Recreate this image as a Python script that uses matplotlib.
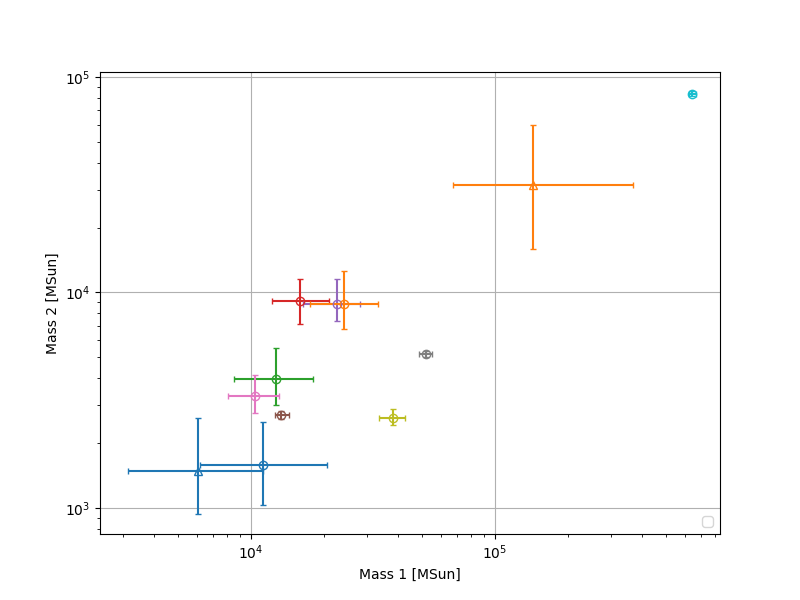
import numpy as np
import matplotlib
matplotlib.use("Agg")
import matplotlib.pyplot as plt

# mass estimates: value, lower bound, upper bound
m1 = [11200, 6050, 15900, 22500, 24100, 12700, 10400, 13300, 38300, 52000, 143600, 644000]
m1_lo = [6180, 3140, 12230, 16400, 17500, 8540, 8030, 12600, 33600, 49000, 67500, 622000]
m1_hi = [20400, 11200, 20900, 28000, 33300, 18000, 13060, 14300, 42900, 55000, 369000, 666000]

m2 = [1590, 1490, 9090, 8800, 8800, 3950, 3320, 2710, 2620, 5190, 31700, 83600]
m2_lo = [1035, 940, 7160, 7360, 6790, 3020, 2770, 2590, 2420, 5040, 15960, 81500]
m2_hi = [2500, 2620, 11580, 11580, 12560, 5515, 4130, 2830, 2870, 5340, 60000, 85800]

markers = ['o', '^', 'o', 'o', 'o', 'o', 'o', 'o', 'o', 'o', '^', 'o']
colors = ['tab:blue', 'tab:blue', 'tab:red', 'tab:purple', 'tab:orange', 'tab:green',
          'tab:pink', 'tab:brown', 'tab:olive', 'tab:gray', 'tab:orange', 'tab:cyan']

fig, ax = plt.subplots(figsize=(8, 6), dpi=100)

for i in range(len(m1)):
	xerr = [[m1[i] - m1_lo[i]], [m1_hi[i] - m1[i]]]
	yerr = [[m2[i] - m2_lo[i]], [m2_hi[i] - m2[i]]]
	ax.errorbar([m1[i]], [m2[i]], xerr=xerr, yerr=yerr, fmt=markers[i],
				color=colors[i], mfc='none', capsize=2)

ax.set_xscale('log')
ax.set_yscale('log')
ax.set_xlim(2405, 8.36e5)
ax.set_ylim(757, 1.055e5)
ax.grid(True)
ax.set_xlabel('Mass 1 [MSun]')
ax.set_ylabel('Mass 2 [MSun]')
ax.legend(handles=[], loc='lower right')

plt.savefig("out.png")
